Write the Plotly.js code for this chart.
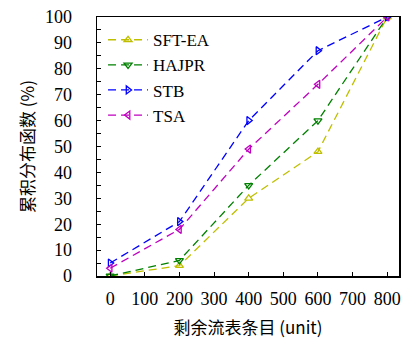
<!DOCTYPE html>
<html><head><meta charset="utf-8">
<script src="https://cdn.plot.ly/plotly-3.0.1.min.js"></script>
<style>body{margin:0;padding:0;background:#fff}#c{width:403px;height:343px}</style>
</head><body><div id="c"></div>
<script>
const xVals = [0, 200, 400, 600, 800];
const sftEA = [0, 4, 30, 48, 100];
const hajpr = [0, 6, 35, 60, 100];
const stb = [5, 21, 60, 87, 100];
const tsa = [3, 18, 49, 74, 100];
const seriesNames = ['SFT-EA', 'HAJPR', 'STB', 'TSA'];
const xTicks = [0, 100, 200, 300, 400, 500, 600, 700, 800];
const yTicks = [0, 10, 20, 30, 40, 50, 60, 70, 80, 90, 100];

const colors = ['#bfbf00', '#008000', '#0000ff', '#bf00bf'];
const symbols = ['triangle-up-open', 'triangle-down-open', 'triangle-right-open', 'triangle-left-open'];
const data = [sftEA, hajpr, stb, tsa].map((ys, i) => ({
  x: xVals, y: ys, name: seriesNames[i], type: 'scatter', mode: 'lines+markers',
  line: {color: colors[i], width: 1.3, dash: '8px,5px'},
  marker: {symbol: symbols[i], size: 7, color: colors[i], line: {color: colors[i], width: 1.3}}
}));
const serif = 'Liberation Serif';
const cjk = 'Noto Sans CJK SC';
const layout = {
  width: 403, height: 343,
  margin: {l: 97, r: 4, t: 17, b: 67},
  paper_bgcolor: '#fff', plot_bgcolor: '#fff',
  font: {family: serif, size: 18, color: '#000'},
  showlegend: true,
  legend: {x: 0.02, y: 0.98, xanchor: 'left', yanchor: 'top', bgcolor: 'rgba(0,0,0,0)',
    font: {family: serif, size: 17, color: '#000'}, itemwidth: 40},
  xaxis: {range: [-38, 834], tickvals: xTicks, ticktext: xTicks.map(String),
    ticks: 'inside', ticklen: 4, tickwidth: 1, tickcolor: '#000', ticklabelstandoff: 6,
    showline: true, linecolor: '#000', linewidth: 1.5, mirror: true, showgrid: false, zeroline: false,
    tickfont: {family: serif, size: 18, color: '#000'},
    title: {text: '剩余流表条目 (unit)', font: {family: cjk, size: 17, color: '#000'}, standoff: 14}},
  yaxis: {range: [0, 100], tickvals: yTicks, ticktext: yTicks.map(String),
    ticks: 'inside', ticklen: 4, tickwidth: 1, tickcolor: '#000', ticklabelstandoff: 20,
    minor: {dtick: 5, tick0: 0, ticks: 'inside', ticklen: 4, tickcolor: '#000', showgrid: false},
    showline: true, linecolor: '#000', linewidth: 1.5, mirror: true, showgrid: false, zeroline: false,
    tickfont: {family: serif, size: 18, color: '#000'},
    title: {text: '累积分布函数 (%)', font: {family: cjk, size: 17, color: '#000'}, standoff: 6}}
};
Plotly.newPlot('c', data, layout, {displayModeBar: false, staticPlot: true});
</script></body></html>
